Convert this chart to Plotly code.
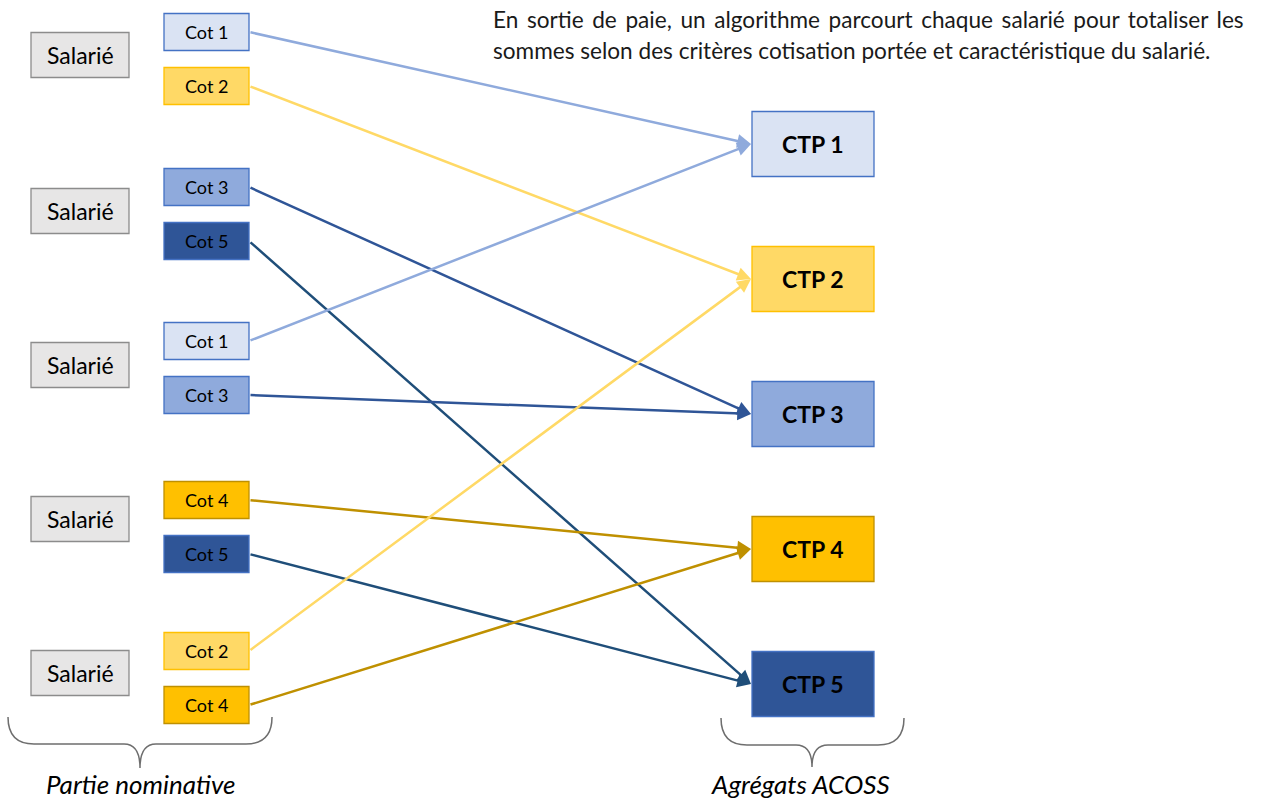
"""Schéma : cotisations individuelles agrégées en CTP (agrégats ACOSS)."""

import plotly.graph_objects as go

# ---- données -------------------------------------------------------------
salarie_labels = ["Salarié", "Salarié", "Salarié", "Salarié", "Salarié"]
cot_labels = [
    ["Cot 1", "Cot 2"],
    ["Cot 3", "Cot 5"],
    ["Cot 1", "Cot 3"],
    ["Cot 4", "Cot 5"],
    ["Cot 2", "Cot 4"],
]
ctp_labels = ["CTP 1", "CTP 2", "CTP 3", "CTP 4", "CTP 5"]
note_lines = [
    "En sortie de paie, un algorithme parcourt chaque salarié pour totaliser les",
    "sommes selon des critères cotisation portée et caractéristique du salarié.",
]
left_caption = "Partie nominative"
right_caption = "Agrégats ACOSS"

# ---- styles par numéro de cotisation --------------------------------------
FILL = {1: "#DAE3F3", 2: "#FFD966", 3: "#8FAADC", 4: "#FFC000", 5: "#2F5597"}
BORDER = {1: "#4472C4", 2: "#FFC000", 3: "#4472C4", 4: "#BF9000", 5: "#4472C4"}
LINE = {1: "#8FAADC", 2: "#FFD966", 3: "#2F5597", 4: "#BF9000", 5: "#1F4E79"}
FONT = "Lato, 'Open Sans', sans-serif"

W, H = 1266, 801

# ---- géométrie (pixels) ---------------------------------------------------
sal_x0, sal_x1 = 31, 129
sal_cy = [55, 211, 365, 519, 673]
cot_x0, cot_x1 = 164, 249
cot_top = [32, 187, 341, 500, 651]  # centre de la 1re cotisation du groupe
cot_gap = 54
ctp_x0, ctp_x1 = 752, 874
ctp_cy0, ctp_step = 144, 135

fig = go.Figure()
shapes = []
annotations = []


def box(x0, x1, cy, h, fill, border, text, size, bold=False):
    shapes.append(dict(
        type="rect", xref="x", yref="y",
        x0=x0, x1=x1, y0=cy - h / 2, y1=cy + h / 2,
        fillcolor=fill, line=dict(color=border, width=1.3),
        layer="below",
    ))
    annotations.append(dict(
        x=(x0 + x1) / 2, y=cy, xref="x", yref="y",
        text=f"<b>{text}</b>" if bold else text,
        showarrow=False,
        font=dict(family=FONT, size=size, color="black"),
    ))


for lab, cy in zip(salarie_labels, sal_cy):
    box(sal_x0, sal_x1, cy, 45, "#E7E6E6", "#8C8C8C", lab, 23)

ctp_cy = [ctp_cy0 + i * ctp_step for i in range(len(ctp_labels))]
for i, lab in enumerate(ctp_labels):
    n = i + 1
    box(ctp_x0, ctp_x1, ctp_cy[i], 65, FILL[n], BORDER[n], lab, 23, bold=True)

for g, group in enumerate(cot_labels):
    for k, lab in enumerate(group):
        n = int(lab.split()[-1])
        cy = cot_top[g] + k * cot_gap
        box(cot_x0, cot_x1, cy, 37, FILL[n], BORDER[n], lab, 18)
        annotations.append(dict(
            x=ctp_x0 - 1, y=ctp_cy[n - 1], xref="x", yref="y",
            ax=cot_x1, ay=cy, axref="x", ayref="y",
            showarrow=True, arrowhead=2, arrowsize=1.1, arrowwidth=2.5,
            arrowcolor=LINE[n], standoff=0, startstandoff=0, text="",
        ))

# ---- accolades --------------------------------------------------------------


def brace(x0, x1, xm, ytop, ymid, ytip, r=26, rt=16):
    return (
        f"M {x0},{ytop} Q {x0},{ymid} {x0 + r},{ymid} "
        f"L {xm - rt},{ymid} Q {xm},{ymid} {xm},{ytip} "
        f"Q {xm},{ymid} {xm + rt},{ymid} "
        f"L {x1 - r},{ymid} Q {x1},{ymid} {x1},{ytop}"
    )


for path in (brace(8, 272, 140, 717, 744, 768), brace(721, 904, 812, 718, 745, 767)):
    shapes.append(dict(type="path", xref="x", yref="y", path=path,
                       line=dict(color="#6E6E6E", width=1.5)))

for txt, cx in ((left_caption, 141), (right_caption, 800)):
    annotations.append(dict(
        x=cx, y=784, xref="x", yref="y", text=f"<i>{txt}</i>",
        showarrow=False, font=dict(family=FONT, size=26, color="black"),
    ))

# ---- note en haut à droite (1re ligne justifiée à la main) -----------------
for i, line in enumerate(note_lines):
    if i == 0:
        line = " \u2009".join(line.split(" "))
    annotations.append(dict(
        x=491, y=19 + i * 31, xref="x", yref="y", text=line,
        xanchor="left", showarrow=False,
        font=dict(family=FONT, size=22.6, color="#1A1A1A"),
    ))

fig.update_layout(
    width=W, height=H,
    margin=dict(l=0, r=0, t=0, b=0),
    paper_bgcolor="white", plot_bgcolor="white",
    xaxis=dict(range=[0, W], visible=False, fixedrange=True),
    yaxis=dict(range=[H, 0], visible=False, fixedrange=True),
    shapes=shapes, annotations=annotations,
    showlegend=False,
)

fig.write_html(
    "out.html",
    config={"displayModeBar": False},
    post_script="document.body.style.margin='0';document.body.style.overflow='hidden';",
)
